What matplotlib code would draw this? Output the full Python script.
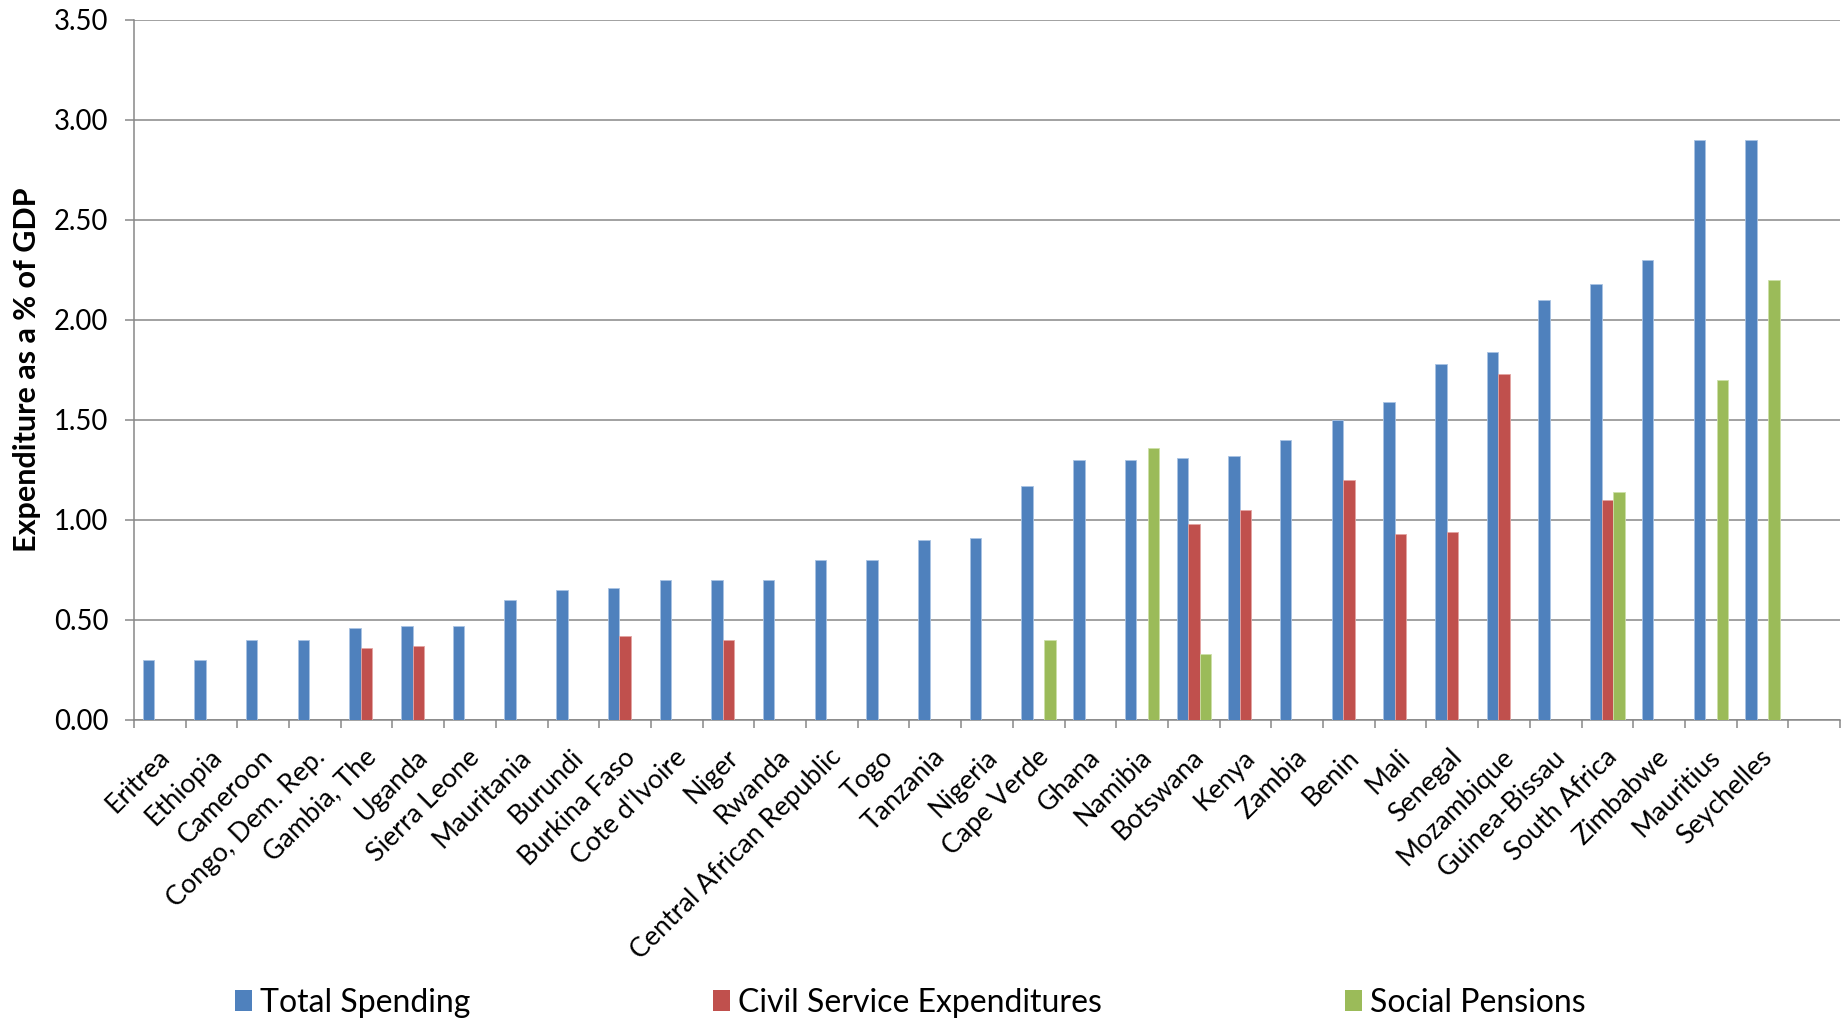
import numpy as np
import matplotlib.pyplot as plt
import matplotlib.transforms as mtransforms
from matplotlib.patches import Patch

plt.rcParams['font.family'] = ['Lato', 'DejaVu Sans']

countries = ['Eritrea', 'Ethiopia', 'Cameroon', 'Congo, Dem. Rep.', 'Gambia, The',
             'Uganda', 'Sierra Leone', 'Mauritania', 'Burundi', 'Burkina Faso',
             "Cote d'Ivoire", 'Niger', 'Rwanda', 'Central African Republic', 'Togo',
             'Tanzania', 'Nigeria', 'Cape Verde', 'Ghana', 'Namibia', 'Botswana',
             'Kenya', 'Zambia', 'Benin', 'Mali', 'Senegal', 'Mozambique',
             'Guinea-Bissau', 'South Africa', 'Zimbabwe', 'Mauritius', 'Seychelles']

total_spending = [0.30, 0.30, 0.40, 0.40, 0.46, 0.47, 0.47, 0.60, 0.65, 0.66,
                  0.70, 0.70, 0.70, 0.80, 0.80, 0.90, 0.91, 1.17, 1.30, 1.30, 1.31,
                  1.32, 1.40, 1.50, 1.59, 1.78, 1.84, 2.10, 2.18, 2.30, 2.90, 2.90]

civil_service = [0, 0, 0, 0, 0.36, 0.37, 0, 0, 0, 0.42,
                 0, 0.40, 0, 0, 0, 0, 0, 0, 0, 0, 0.98,
                 1.05, 0, 1.20, 0.93, 0.94, 1.73, 0, 1.10, 0, 0, 0]

social_pensions = [0, 0, 0, 0, 0, 0, 0, 0, 0, 0,
                   0, 0, 0, 0, 0, 0, 0, 0.40, 0, 1.36, 0.33,
                   0, 0, 0, 0, 0, 0, 0, 1.14, 0, 1.70, 2.20]

series_names = ['Total Spending', 'Civil Service Expenditures', 'Social Pensions']
colors = ['#4F81BD', '#C0504D', '#9BBB59']
edges = ['#A9C3E3', '#E3A4A2', '#CDE0A8']
grid_gray = '#878787'

fig = plt.figure(figsize=(18.45, 10.18), dpi=100)
ax = fig.add_axes([134 / 1845, 1 - 720 / 1018, 1706 / 1845, 700 / 1018])

x = np.arange(len(countries))
w = 1 / 4.5
for k, vals in enumerate([total_spending, civil_service, social_pensions]):
    ax.bar(x + (k - 1) * w, vals, width=w, color=colors[k],
           edgecolor=edges[k], linewidth=0.6, zorder=3)

ax.set_xlim(-0.5, len(countries) + 0.5)
ax.set_ylim(0, 3.5)
ax.set_yticks(np.arange(0, 3.51, 0.5))
ax.set_yticklabels([f'{v:.2f}' for v in np.arange(0, 3.51, 0.5)], fontsize=19.8)
ax.yaxis.grid(True, color=grid_gray, linewidth=1.1, zorder=0)
ax.set_axisbelow(True)

for side in ['top', 'right']:
    ax.spines[side].set_visible(False)
for side in ['left', 'bottom']:
    ax.spines[side].set_color(grid_gray)
    ax.spines[side].set_linewidth(1.1)

ax.tick_params(axis='y', length=6.5, width=1.1, color=grid_gray, pad=12)

# category labels on major ticks, boundary ticks on minor
ax.set_xticks(x)
ax.set_xticklabels(countries, rotation=45, ha='right', va='center',
                   rotation_mode='anchor', fontsize=19.3)
ax.tick_params(axis='x', which='major', length=0, pad=24)
ax.set_xticks(np.arange(-0.5, len(countries) + 0.6, 1), minor=True)
ax.tick_params(axis='x', which='minor', length=6, width=1.1, color=grid_gray)
shift = mtransforms.ScaledTranslation(6 / 100, 0, fig.dpi_scale_trans)
for lab in ax.get_xticklabels():
    lab.set_transform(lab.get_transform() + shift)

ax.set_ylabel('Expenditure as a % of GDP', fontsize=22, fontweight='bold', labelpad=9)

handles = [Patch(facecolor=c, edgecolor='none') for c in colors]
fig.legend(handles, series_names, loc='center', bbox_to_anchor=(0.4933, 15 / 1018),
           ncol=3, frameon=False, fontsize=23, columnspacing=7.6,
           handlelength=0.53, handleheight=0.65, handletextpad=0.25, borderpad=0)

fig.savefig('out.png', dpi=100)
